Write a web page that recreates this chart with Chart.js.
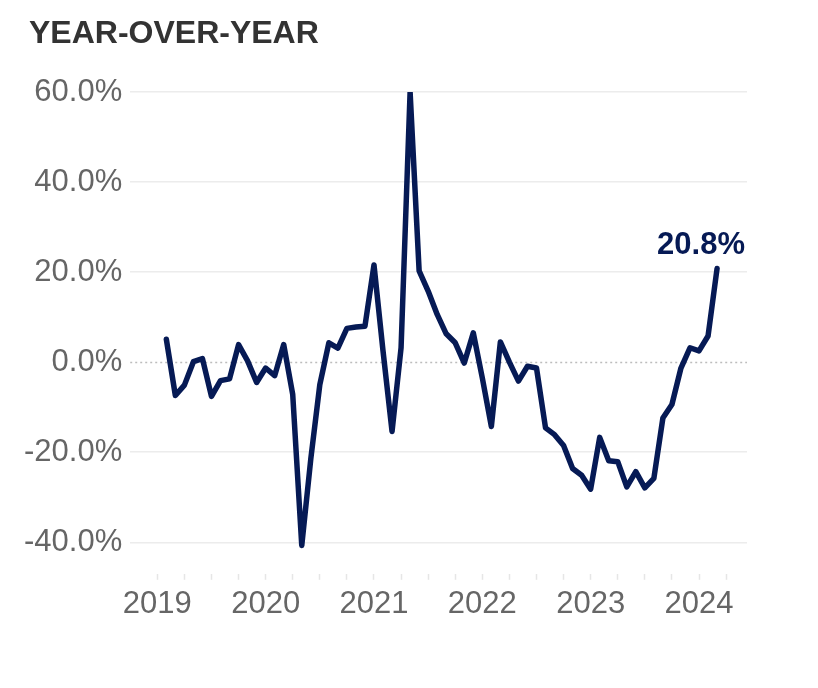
<!DOCTYPE html>
<html>
<head>
<meta charset="utf-8">
<script src="https://cdn.jsdelivr.net/npm/chart.js@4/dist/chart.umd.min.js"></script>
<style>
  html, body { margin: 0; padding: 0; background: #fff; }
  #wrap { width: 818px; height: 688px; }
</style>
</head>
<body>
<div id="wrap"><canvas id="yoyChart" width="818" height="688"></canvas></div>
<script>
// monthly year-over-year change, Feb 2019 .. Mar 2024
const months = [
   '2019-02','2019-03','2019-04','2019-05','2019-06','2019-07','2019-08','2019-09','2019-10','2019-11','2019-12',
   '2020-01','2020-02','2020-03','2020-04','2020-05','2020-06','2020-07','2020-08','2020-09','2020-10','2020-11','2020-12',
   '2021-01','2021-02','2021-03','2021-04','2021-05','2021-06','2021-07','2021-08','2021-09','2021-10','2021-11','2021-12',
   '2022-01','2022-02','2022-03','2022-04','2022-05','2022-06','2022-07','2022-08','2022-09','2022-10','2022-11','2022-12',
   '2023-01','2023-02','2023-03','2023-04','2023-05','2023-06','2023-07','2023-08','2023-09','2023-10','2023-11','2023-12',
   '2024-01','2024-02','2024-03'
];
const yoy = [
   5.1, -7.4, -5.1, 0.1, 0.8, -7.6, -4.1, -3.7, 3.9, 0.3, -4.5,
   -1.3, -3.0, 3.9, -7.2, -40.7, -21.5, -5.0, 4.3, 3.1, 7.5, 7.8, 8.0,
   21.6, 2.5, -15.4, 3.2, 60.0, 20.3, 15.8, 10.6, 6.3, 4.3, -0.2, 6.5,
   -3.5, -14.3, 4.5, 0.0, -4.2, -0.9, -1.3, -14.6, -16.1, -18.5, -23.6, -25.1,
   -28.2, -16.7, -21.9, -22.1, -27.7, -24.3, -27.9, -25.8, -12.4, -9.4, -1.3, 3.2,
   2.5, 5.8, 20.8
];
const yTicks = [-40, -20, 0, 20, 40, 60];
const yearLabels = [2019, 2020, 2021, 2022, 2023, 2024];

const navy = '#061a55';

// month string -> fractional year for the linear x scale
const toX = (m) => {
   let parts = m.split('-');
   return parseInt(parts[0]) + (parseInt(parts[1]) - 1) / 12;
};
const points = months.map((m, i) => ({ x: toX(m), y: yoy[i] }));

// dotted zero line, title and end label
const extras = {
   id: 'extras',
   beforeDatasetsDraw(chart) {
      const { ctx, chartArea, scales } = chart;
      const y0 = Math.round(scales.y.getPixelForValue(0)) + 0.5;
      ctx.save();
      ctx.strokeStyle = '#bdbdbd';
      ctx.lineWidth = 1.5;
      ctx.setLineDash([2, 3]);
      ctx.beginPath();
      ctx.moveTo(chartArea.left, y0);
      ctx.lineTo(chartArea.right, y0);
      ctx.stroke();
      ctx.restore();
   },
   afterDraw(chart) {
      const { ctx, scales } = chart;
      ctx.save();
      ctx.fillStyle = '#333333';
      ctx.font = 'bold 32px "Liberation Sans", Arial, sans-serif';
      ctx.textAlign = 'left';
      ctx.textBaseline = 'alphabetic';
      ctx.fillText('YEAR-OVER-YEAR', 29, 43);

      const last = points[points.length - 1];
      const px = scales.x.getPixelForValue(last.x);
      const py = scales.y.getPixelForValue(last.y);
      ctx.fillStyle = navy;
      ctx.font = 'bold 31px "Liberation Sans", Arial, sans-serif';
      ctx.textAlign = 'center';
      ctx.fillText(last.y.toFixed(1) + '%', px - 16, py - 15);
      ctx.restore();
   }
};

const ctx = document.getElementById('yoyChart').getContext('2d');
const yoyChart = new Chart(ctx, {
   type: 'line',
   data: {
      datasets: [{
         data: points,
         borderColor: navy,
         borderWidth: 5.5,
         borderJoinStyle: 'round',
         borderCapStyle: 'round',
         pointRadius: 0,
         tension: 0,
         fill: false
      }]
   },
   options: {
      responsive: false,
      animation: false,
      layout: { padding: { top: 92, left: 16, right: 71, bottom: 59 } },
      plugins: {
         legend: { display: false },
         tooltip: { enabled: false }
      },
      scales: {
         x: {
            type: 'linear',
            min: 2018.75,
            max: 2024.443,
            afterBuildTicks: (scale) => {
               let t = [];
               for (let q = 0; q <= 21; q++) t.push({ value: 2019 + q * 0.25 });
               scale.ticks = t;
            },
            ticks: {
               autoSkip: false,
               maxRotation: 0,
               padding: 6,
               color: '#666666',
               font: { family: '"Liberation Sans", Arial, sans-serif', size: 31 },
               callback: (v) => yearLabels.includes(v) ? String(v) : ''
            },
            grid: {
               drawOnChartArea: false,
               drawTicks: true,
               tickLength: 6,
               tickColor: '#e6e6e6',
               tickWidth: 1.5
            },
            border: { display: false }
         },
         y: {
            min: -47,
            max: 60,
            afterBuildTicks: (scale) => {
               scale.ticks = yTicks.map(v => ({ value: v }));
            },
            ticks: {
               padding: 8,
               color: '#666666',
               font: { family: '"Liberation Sans", Arial, sans-serif', size: 31 },
               callback: (v) => v.toFixed(1) + '%'
            },
            grid: {
               drawTicks: false,
               lineWidth: 1.5,
               color: (c) => c.tick && c.tick.value === 0 ? 'rgba(0,0,0,0)' : '#ececec'
            },
            border: { display: false }
         }
      }
   },
   plugins: [extras]
});
</script>
</body>
</html>
